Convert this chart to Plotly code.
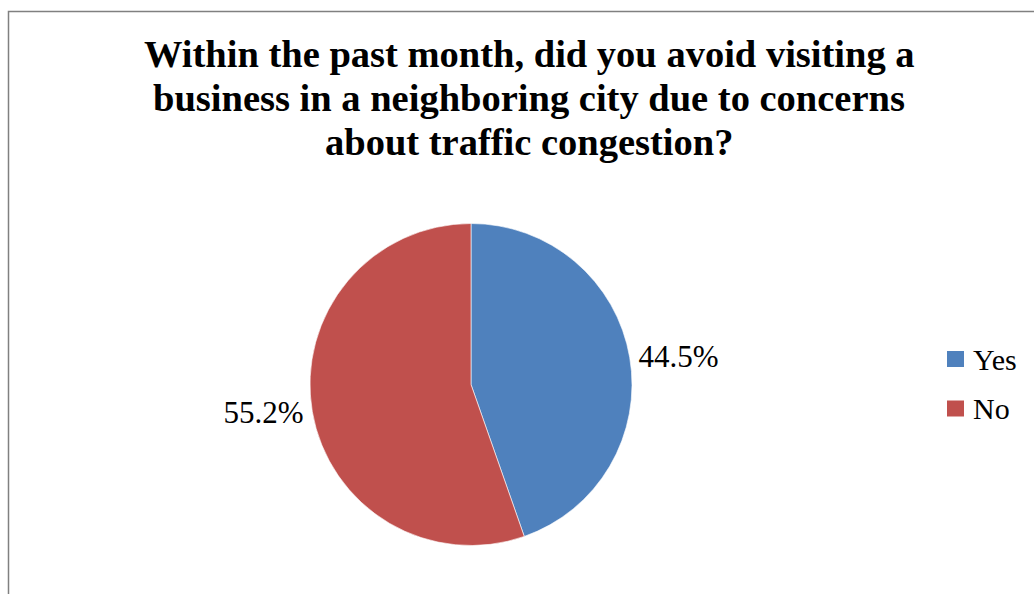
import plotly.graph_objects as go

# Survey responses
labels = ["Yes", "No"]
values = [44.5, 55.2]
colors = ["#4F81BD", "#C0504D"]
title_lines = [
    "Within the past month, did you avoid visiting a",
    "business in a neighboring city due to concerns",
    "about traffic congestion?",
]

W, H = 1034, 594
SERIF = "Liberation Serif, Times New Roman, serif"


def px_x(x):
    return x / W


def px_y(y):
    return 1 - y / H


fig = go.Figure()

fig.add_trace(go.Pie(
    labels=labels,
    values=values,
    marker=dict(colors=colors, line=dict(color="#ffffff", width=0.6)),
    sort=False,
    direction="clockwise",
    rotation=0,
    texttemplate="%{value:.1f}%",
    textposition="outside",
    textfont=dict(family=SERIF, size=31, color="#000000"),
    domain=dict(x=[px_x(310), px_x(632)], y=[px_y(545.5), px_y(223.5)]),
    showlegend=False,
    hoverinfo="label+value",
))

annotations = []
# Title, one annotation per line
for i, line in enumerate(title_lines):
    annotations.append(dict(
        text=f"<b>{line}</b>", x=px_x(529), y=px_y(54.5 + 43.5 * i),
        xref="paper", yref="paper", xanchor="center", yanchor="middle",
        showarrow=False, font=dict(family=SERIF, size=38.5, color="#000000"),
    ))

# Legend: colour square plus label for each slice
shapes = []
for i, (lab, col) in enumerate(zip(labels, colors)):
    cy = 359 + 49.5 * i
    shapes.append(dict(
        type="rect", xref="paper", yref="paper",
        x0=px_x(947), x1=px_x(964), y0=px_y(cy + 8), y1=px_y(cy - 8),
        fillcolor=col, line=dict(width=0),
    ))
    annotations.append(dict(
        text=lab, x=px_x(971), y=px_y(cy), xref="paper", yref="paper",
        xanchor="left", yanchor="middle", showarrow=False,
        font=dict(family=SERIF, size=30, color="#000000"),
    ))

# Chart-area frame
shapes.append(dict(
    type="rect", xref="paper", yref="paper",
    x0=px_x(8.5), x1=px_x(1045), y0=px_y(605), y1=px_y(11.5),
    line=dict(color="#808080", width=1.5), fillcolor="rgba(0,0,0,0)",
))

fig.update_layout(
    width=W, height=H,
    margin=dict(l=0, r=0, t=0, b=0),
    paper_bgcolor="#ffffff",
    plot_bgcolor="#ffffff",
    annotations=annotations,
    shapes=shapes,
)

fig.write_html("out.html")
